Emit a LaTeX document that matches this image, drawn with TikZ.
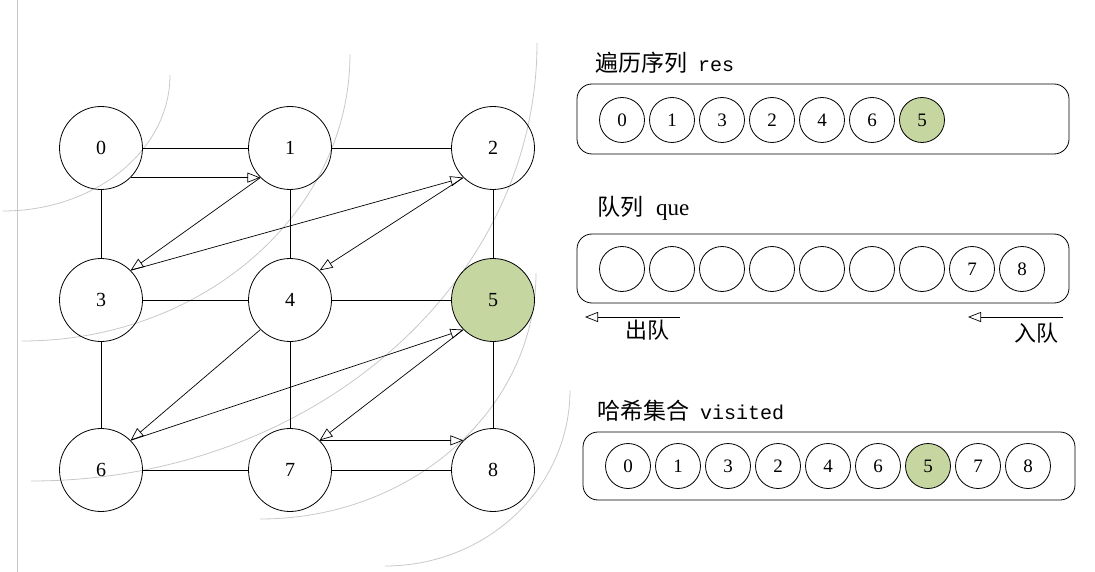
\documentclass[tikz,border=0pt]{standalone}
\usepackage{fontspec}
\setmainfont{Liberation Serif}
\setmonofont{Liberation Mono}
\newfontfamily\cjk{Noto Sans CJK SC}
\usetikzlibrary{arrows.meta,positioning}
\definecolor{seengreen}{HTML}{C5D6A0}
\definecolor{wavegray}{HTML}{C8C8C8}
\tikzset{
  vertex/.style={circle, draw, line width=0.8pt, minimum size=83pt, inner sep=0pt,
        font=\fontsize{20}{20}\selectfont},
  cell/.style={circle, draw, line width=0.8pt, minimum size=45pt, inner sep=0pt,
        font=\fontsize{19}{19}\selectfont},
  seen/.style={fill=seengreen},
  edge/.style={line width=0.9pt},
  walk/.style={line width=0.7pt, -{Triangle[open, length=13pt, width=10pt]}},
  wave/.style={draw=wavegray, line width=0.8pt},
  panel/.style={draw, line width=0.8pt, rounded corners=15pt},
  title/.style={anchor=west, inner sep=0pt, font=\fontsize{23}{23}\selectfont},
  tag/.style={inner sep=0pt, font=\fontsize{22}{22}\selectfont\cjk}
}
\def\Wave#1#2#3{%
  \draw[wave] #1 arc[start angle=0, end angle=-90, x radius=#2pt, y radius=#3pt];
}

\begin{document}
\begin{tikzpicture}[x=1pt, y=-1pt]
\useasboundingbox (0,0) rectangle (1095,572);
% bfs layers
\draw[wave] (17,0) -- (17,572);
\Wave{(170,75)}{167}{136}
\Wave{(350,54)}{328}{287}
\Wave{(537,43)}{506}{438}
\Wave{(536,273)}{276}{246}
\Wave{(570,390)}{185}{176}

\foreach \i/\x/\y in {0/101/148, 1/290/148, 2/493/148, 3/101/300, 4/290/300,
                      6/101/470, 7/290/470, 8/493/470}
  \node[vertex] (n\i) at (\x,\y) {\i};
\node[vertex, seen] (n5) at (493,300) {5};

\foreach \a/\b in {0/1, 1/2, 3/4, 4/5, 6/7, 7/8, 0/3, 3/6, 1/4, 4/7, 2/5, 5/8}
  \draw[edge] (n\a) -- (n\b);

\draw[walk] (n0.south east) -- (n1.south west);
\draw[walk] (n1.south west) -- (n3.north east);
\draw[walk] (n3.north east) -- (n2.south west);
\draw[walk] (n2.south west) -- (n4.north east);
\draw[walk] (n4.south west) -- (n6.north east);
\draw[walk] (n6.north east) -- (n5.south west);
\draw[walk] (n5.south west) -- (n7.north east);
\draw[walk] (n7.north east) -- (n8.north west);

% res
\node[title] (resTitle) at (595,63) {{\cjk 遍历序列}\hspace{11pt}{\ttfamily\fontsize{20}{20}\selectfont res}};
\draw[panel] (577,84) rectangle (1069,154);
\foreach \v [count=\k from 0] in {0,1,3,2,4,6}
  \node[cell] (r\k) at (622+50*\k,120) {\v};
\node[cell, seen] (r6) at (922,120) {5};

% que
\node[title] (queTitle) at (597,208) {{\cjk 队列}\hspace{13pt}que};
\draw[panel] (577,234) rectangle (1069,303);
\foreach \k in {0,...,6}
  \node[cell] (q\k) at (622+50*\k,269) {};
\node[cell] (q7) at (972,269) {7};
\node[cell] (q8) at (1022,269) {8};
\coordinate (popFrom) at (680,317);
\coordinate (popTo) at (585,317);
\coordinate (pushFrom) at (1063,317);
\coordinate (pushTo) at (968,317);
\draw[walk] (popFrom) -- (popTo);
\draw[walk] (pushFrom) -- (pushTo);
\node[tag] (popTag) at (647,330) {出队};
\node[tag] (pushTag) at (1036,333) {入队};

% visited
\node[title] (visTitle) at (597,411) {{\cjk 哈希集合}\hspace{11pt}{\ttfamily\fontsize{20}{20}\selectfont visited}};
\draw[panel] (583,432) rectangle (1075,500);
\foreach \v [count=\k from 0] in {0,1,3,2,4,6}
  \node[cell] (v\k) at (628+50*\k,466) {\v};
\node[cell, seen] (v6) at (928,466) {5};
\node[cell] (v7) at (978,466) {7};
\node[cell] (v8) at (1028,466) {8};
\end{tikzpicture}
\end{document}
